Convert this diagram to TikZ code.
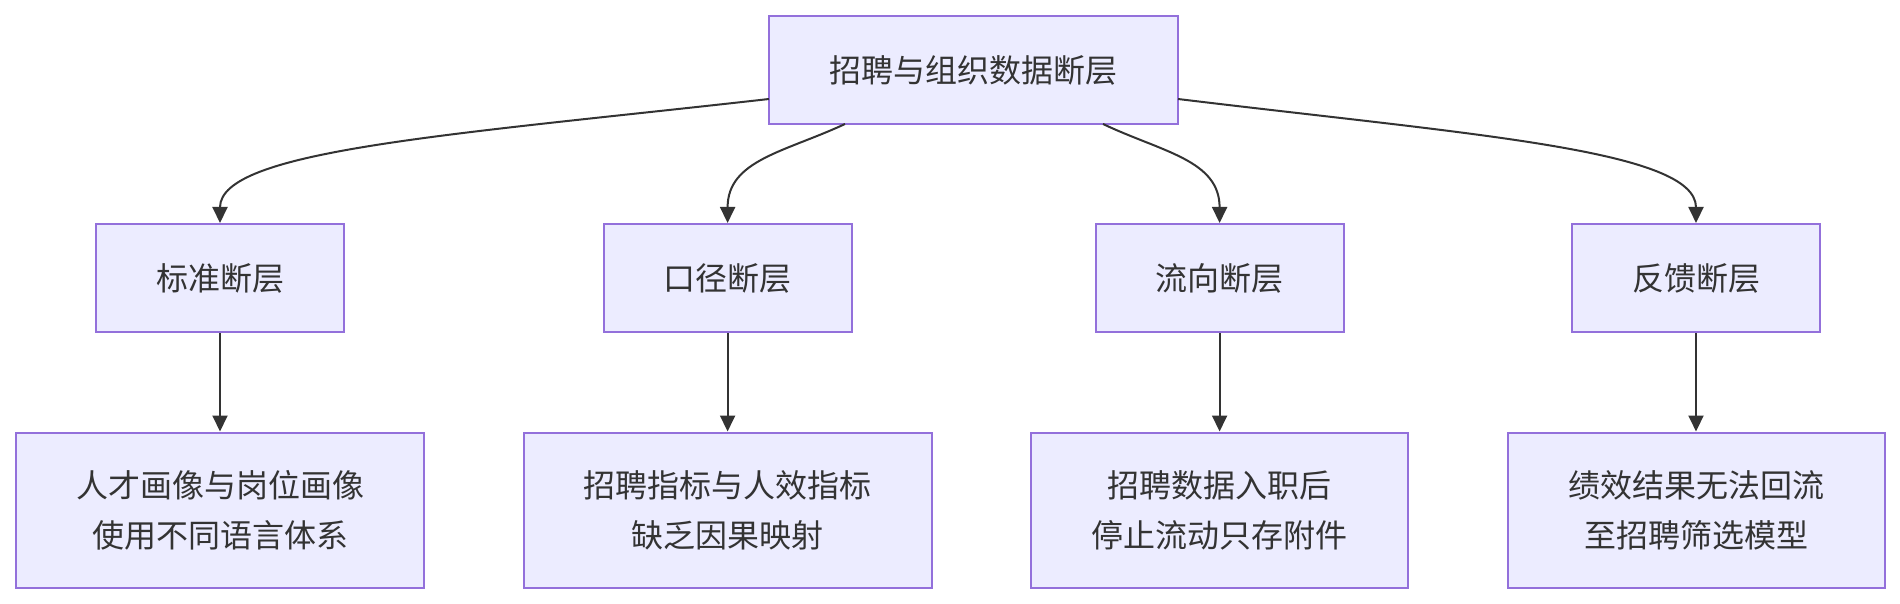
\documentclass[tikz,border=0pt]{standalone}
\usepackage{fontspec}
\setmainfont{Noto Sans CJK SC}
\usetikzlibrary{arrows.meta}
\definecolor{nodefill}{HTML}{ECECFF}
\definecolor{nodeborder}{HTML}{9370DB}
\definecolor{ink}{HTML}{333333}
\tikzset{
  box/.style={draw=nodeborder, fill=nodefill, line width=1pt, inner sep=0pt,
    text=ink, font=\fontsize{16pt}{25pt}\selectfont, align=center, minimum width=#1},
  box/.default=124pt,
  small/.style={minimum height=54pt},
  tall/.style={minimum height=77.5pt},
  conn/.style={draw=ink, line width=1pt, -{Triangle[width=7.5pt,length=8pt]}}
}
\begin{document}
\begin{tikzpicture}[x=0.5pt,y=-0.5pt]
\useasboundingbox (0,0) rectangle (1900,604);
\node[box=204.5pt, small] (top) at (973.5,70) {招聘与组织数据断层};
\node[box, small] (a) at (220,278) {标准断层};
\node[box, small] (b) at (727.6,278) {口径断层};
\node[box, small] (c) at (1219.6,278) {流向断层};
\node[box, small] (d) at (1696,278) {反馈断层};
\node[box=204pt, tall] (a2) at (220,510) {人才画像与岗位画像\\使用不同语言体系};
\node[box=204pt, tall] (b2) at (727.6,510) {招聘指标与人效指标\\缺乏因果映射};
\node[box=188.5pt, tall] (c2) at (1219.6,510) {招聘数据入职后\\停止流动只存附件};
\node[box=188.5pt, tall] (d2) at (1696,510) {绩效结果无法回流\\至招聘筛选模型};
\coordinate (s1) at (769,99);
\coordinate (s2) at (845,124);
\coordinate (s3) at (1103,124);
\coordinate (s4) at (1178,99);
\draw[conn] (s1) .. controls (450,135) and (220,150) .. (a.north);
\draw[conn] (s2) .. controls (785,152) and (727.6,160) .. (b.north);
\draw[conn] (s3) .. controls (1162,152) and (1219.6,160) .. (c.north);
\draw[conn] (s4) .. controls (1475,135) and (1696,150) .. (d.north);
\draw[conn] (a) -- (a2);
\draw[conn] (b) -- (b2);
\draw[conn] (c) -- (c2);
\draw[conn] (d) -- (d2);
\end{tikzpicture}
\end{document}
